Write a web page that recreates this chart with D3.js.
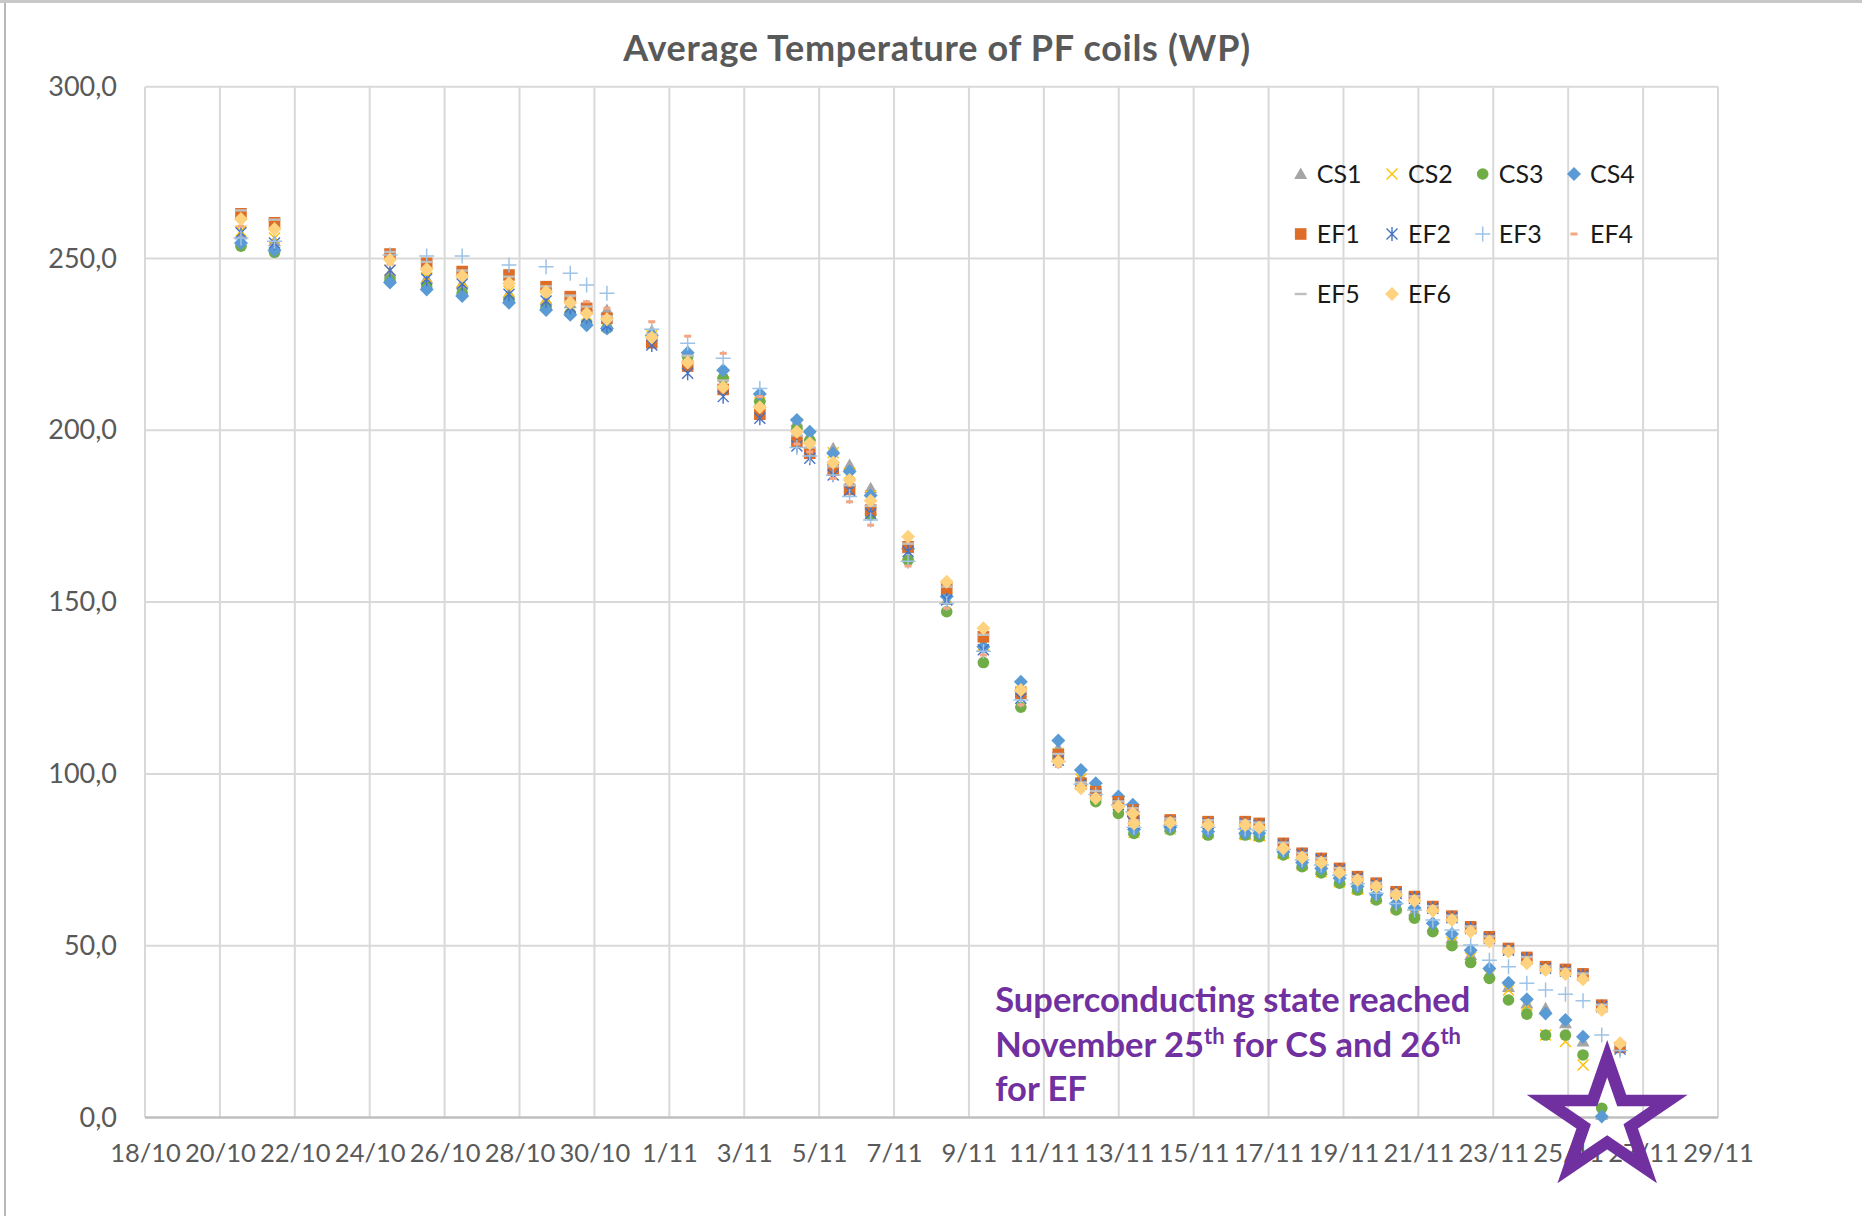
<!DOCTYPE html>
<html>
<head>
<meta charset="utf-8">
<script src="https://cdn.jsdelivr.net/npm/d3@7"></script>
<style>
  html, body { margin: 0; padding: 0; background: #fff; }
  svg { display: block; }
</style>
</head>
<body>
<script>
// ---------------- DATA ----------------
const times = [
  "2020-10-20T13:30","2020-10-21T11:00","2020-10-24T13:00","2020-10-25T12:30","2020-10-26T11:15",
  "2020-10-27T17:15","2020-10-28T17:00","2020-10-29T08:30","2020-10-29T19:00","2020-10-30T08:00",
  "2020-10-31T12:45","2020-11-01T11:45","2020-11-02T10:30","2020-11-03T10:00","2020-11-04T09:45",
  "2020-11-04T18:00","2020-11-05T09:00","2020-11-05T19:30","2020-11-06T09:00","2020-11-07T09:00",
  "2020-11-08T09:45","2020-11-09T09:15","2020-11-10T09:15","2020-11-11T09:15","2020-11-11T23:45",
  "2020-11-12T09:15","2020-11-12T23:45","2020-11-13T09:00","2020-11-13T09:45","2020-11-14T09:00",
  "2020-11-15T09:15","2020-11-16T09:00","2020-11-16T18:00","2020-11-17T09:30","2020-11-17T21:30",
  "2020-11-18T09:45","2020-11-18T21:30","2020-11-19T09:00","2020-11-19T21:00","2020-11-20T09:45",
  "2020-11-20T21:30","2020-11-21T09:15","2020-11-21T21:30","2020-11-22T09:30","2020-11-22T21:30",
  "2020-11-23T09:45","2020-11-23T21:30","2020-11-24T09:30","2020-11-24T22:15","2020-11-25T09:30",
  "2020-11-25T21:30","2020-11-26T09:15"
];
const CS1 = [257.0,255.0,245.7,244.2,242.8,239.9,237.9,237.0,236.2,235.0,229.0,222.9,216.5,209.8,202.5,198.5,194.8,189.9,183.1,165.7,150.6,137.0,125.4,107.5,99.2,95.8,92.4,90.0,83.5,84.5,83.0,82.5,82.0,77.0,73.8,72.0,69.0,66.7,64.2,61.5,60.0,55.5,52.2,47.3,41.9,38.0,33.2,31.8,27.4,22.1,0.8,null];
const CS2 = [258.0,256.0,246.6,244.5,243.2,240.5,238.5,236.0,233.5,231.0,227.5,220.2,214.0,208.0,202.0,198.0,193.5,187.5,181.0,164.0,151.0,137.5,124.0,106.0,98.5,95.0,91.5,89.5,83.0,84.0,82.7,82.3,82.0,76.8,73.5,71.5,68.6,66.5,63.8,61.0,59.0,55.0,51.0,46.5,41.5,37.1,32.7,24.0,22.1,15.3,1.5,null];
const CS3 = [253.6,251.8,243.7,241.8,239.9,237.7,235.5,234.0,231.1,229.7,227.3,221.4,215.1,208.3,200.5,197.0,190.0,183.5,175.4,162.2,147.2,132.4,119.4,104.7,96.5,91.9,88.5,88.0,82.7,83.7,82.2,82.2,81.7,76.4,73.0,71.2,68.2,66.2,63.3,60.4,58.0,54.1,50.0,45.1,40.5,34.2,30.1,24.0,24.0,18.2,2.7,null];
const CS4 = [254.5,252.4,243.0,241.0,239.1,237.1,235.0,233.6,230.6,229.6,227.6,222.6,217.5,210.6,203.0,199.6,193.3,188.0,181.0,165.5,151.6,137.0,126.8,109.7,101.1,97.3,93.4,91.0,83.8,84.5,83.2,82.7,82.7,77.3,74.2,72.5,69.6,67.2,64.8,62.3,61.0,56.5,53.4,48.7,43.4,39.2,34.4,30.3,28.4,23.5,0.3,null];
const EF1 = [263.0,260.4,251.3,248.6,246.2,245.2,241.8,238.9,235.5,232.6,225.5,218.7,211.9,204.7,196.7,193.3,188.4,182.8,176.8,166.1,154.0,139.9,123.5,105.6,97.3,94.8,91.9,89.5,86.5,86.6,86.1,86.1,85.6,79.8,76.9,75.4,72.5,70.1,68.2,65.7,64.3,61.4,58.6,55.5,52.6,49.2,46.6,43.9,43.1,41.8,32.7,20.4];
const EF2 = [257.5,254.5,246.6,244.0,242.6,239.6,237.6,235.8,233.0,230.4,224.8,216.6,209.8,203.5,195.4,191.9,187.0,182.5,175.8,164.7,150.6,136.1,122.0,104.0,97.0,94.0,91.0,89.0,85.5,86.0,85.5,85.5,85.0,79.3,76.5,75.0,72.0,69.6,67.7,65.2,63.8,60.9,58.1,55.0,52.1,48.7,46.1,43.4,42.6,41.3,32.2,19.9];
const EF3 = [256.0,255.0,251.0,250.7,250.7,248.1,247.6,245.7,242.3,239.9,229.4,225.3,221.0,212.2,195.0,192.5,187.0,180.7,173.9,161.9,149.6,135.7,121.5,103.6,97.0,94.0,91.0,89.0,84.5,85.0,84.5,84.0,83.5,78.0,75.0,73.5,70.5,68.0,65.3,62.3,60.4,57.5,54.6,50.2,45.8,43.9,39.1,37.1,35.9,34.0,24.0,19.5];
const EF4 = [259.4,259.0,248.4,246.2,244.2,242.4,239.9,238.9,237.4,235.5,231.6,227.4,222.4,209.8,196.0,193.7,186.0,179.2,172.4,160.5,148.2,134.6,120.1,102.2,96.5,93.5,90.8,88.5,85.0,86.0,85.5,85.5,85.0,79.5,76.5,75.0,72.2,69.8,67.9,65.4,64.0,61.1,58.3,55.2,52.3,48.9,46.3,43.6,42.8,41.5,32.4,22.1];
const EF5 = [264.0,261.3,251.9,249.0,246.5,244.7,241.9,239.2,236.0,233.2,228.0,221.7,214.5,207.0,198.5,195.0,189.5,184.0,178.0,167.0,154.5,140.5,124.0,105.8,97.5,95.0,92.0,90.0,86.5,87.0,86.5,86.3,85.8,80.0,77.0,75.5,72.6,70.2,68.3,65.8,64.4,61.5,58.7,55.6,52.7,49.3,46.7,44.0,43.2,41.9,32.8,21.0];
const EF6 = [261.5,258.6,249.6,246.9,244.9,242.8,240.3,237.1,234.0,232.3,227.0,219.7,212.5,206.7,199.6,196.2,190.6,185.5,179.5,169.0,155.9,142.4,124.4,103.6,95.8,92.9,90.5,88.5,85.6,85.8,85.1,85.1,84.4,78.3,75.7,74.2,71.2,69.1,67.2,64.8,63.1,60.2,57.5,54.1,51.2,48.3,44.9,42.9,41.8,40.2,31.3,21.6];

const seriesNames = ["CS1","CS2","CS3","CS4","EF1","EF2","EF3","EF4","EF5","EF6"];
const seriesValues = [CS1, CS2, CS3, CS4, EF1, EF2, EF3, EF4, EF5, EF6];
const xTickDates = ["2020-10-18","2020-10-20","2020-10-22","2020-10-24","2020-10-26","2020-10-28","2020-10-30",
  "2020-11-01","2020-11-03","2020-11-05","2020-11-07","2020-11-09","2020-11-11","2020-11-13","2020-11-15",
  "2020-11-17","2020-11-19","2020-11-21","2020-11-23","2020-11-25","2020-11-27","2020-11-29"];
const yTicks = [0, 50, 100, 150, 200, 250, 300];
const titleText = "Average Temperature of PF coils (WP)";

// ---------------- STYLE ----------------
const styles = {
  CS1: {shape: "triangle", color: "#A5A5A5"},
  CS2: {shape: "x",        color: "#FFC000"},
  CS3: {shape: "circle",   color: "#70AD47"},
  CS4: {shape: "diamond",  color: "#5B9BD5"},
  EF1: {shape: "square",   color: "#DD6D27"},
  EF2: {shape: "asterisk", color: "#4472C4"},
  EF3: {shape: "plus",     color: "#9DC3E6"},
  EF4: {shape: "shortdash",color: "#F4A582"},
  EF5: {shape: "longdash", color: "#BFBFBF"},
  EF6: {shape: "diamond",  color: "#FFD27F"}
};

const W = 1862, H = 1216;
const M = {left: 145, right: 1718, top: 86.7, bottom: 1117.5};
const parseT = d3.utcParse("%Y-%m-%dT%H:%M");
const parseD = d3.utcParse("%Y-%m-%d");

const svg = d3.select("body").append("svg").attr("width", W).attr("height", H);
svg.append("rect").attr("width", W).attr("height", H).attr("fill", "#fff");

// frame of the screenshot
svg.append("rect").attr("x", 0).attr("y", 0).attr("width", W).attr("height", 3).attr("fill", "#c8c8c8");
svg.append("line").attr("x1", 5).attr("x2", 5).attr("y1", 3).attr("y2", H).attr("stroke", "#a0a0a0").attr("stroke-width", 1.5);

const x = d3.scaleUtc().domain([parseD("2020-10-18"), parseD("2020-11-29")]).range([M.left, M.right]);
const y = d3.scaleLinear().domain([0, 300]).range([M.bottom, M.top]);

const fmtY = v => d3.format(".1f")(v).replace(".", ",");
const fmtX = d3.utcFormat("%-d/%m");

// grid
const grid = svg.append("g");
grid.selectAll(".vg").data(xTickDates.map(parseD)).enter().append("line")
  .attr("x1", d => x(d)).attr("x2", d => x(d)).attr("y1", M.top).attr("y2", M.bottom)
  .attr("stroke", "#d9d9d9").attr("stroke-width", 2);
grid.selectAll(".hg").data(yTicks).enter().append("line")
  .attr("x1", M.left).attr("x2", M.right).attr("y1", d => y(d)).attr("y2", d => y(d))
  .attr("stroke", d => d === 0 ? "#bfbfbf" : "#d9d9d9").attr("stroke-width", d => d === 0 ? 2.5 : 2);

// y axis labels
const yAxis = d3.axisLeft(y).tickValues(yTicks).tickFormat(fmtY).tickSize(0).tickPadding(28);
const gy = svg.append("g").attr("transform", `translate(${M.left},0)`).call(yAxis);
gy.select(".domain").remove();
gy.selectAll("text").attr("font-family", "Lato, sans-serif").attr("font-size", 27).attr("fill", "#595959");

// x axis labels
const xAxis = d3.axisBottom(x).tickValues(xTickDates.map(parseD)).tickFormat(fmtX).tickSize(0).tickPadding(26);
const gx = svg.append("g").attr("transform", `translate(0,${M.bottom})`).call(xAxis);
gx.select(".domain").remove();
gx.selectAll("text").attr("font-family", "Lato, sans-serif").attr("font-size", 25.5).attr("fill", "#595959");

// title
svg.append("text").attr("x", 937).attr("y", 61).attr("text-anchor", "middle")
  .attr("font-family", "Lato, sans-serif").attr("font-weight", "bold").attr("font-size", 36)
  .attr("letter-spacing", 0.7).attr("fill", "#595959").text(titleText);

// marker drawing
function drawMarker(g, shape, color) {
  switch (shape) {
    case "triangle":
      g.append("path").attr("d", "M0,-6.5L6.5,5L-6.5,5Z").attr("fill", color); break;
    case "x":
      g.append("path").attr("d", "M-5.5,-5.5L5.5,5.5M-5.5,5.5L5.5,-5.5").attr("stroke", color).attr("stroke-width", 1.4).attr("fill", "none"); break;
    case "circle":
      g.append("circle").attr("r", 5.8).attr("fill", color); break;
    case "diamond":
      g.append("path").attr("d", "M0,-7L7,0L0,7L-7,0Z").attr("fill", color); break;
    case "square":
      g.append("rect").attr("x", -5.8).attr("y", -5.8).attr("width", 11.6).attr("height", 11.6).attr("fill", color); break;
    case "asterisk":
      g.append("path").attr("d", "M0,-7L0,7M-5.5,-5.5L5.5,5.5M-5.5,5.5L5.5,-5.5").attr("stroke", color).attr("stroke-width", 1.4).attr("fill", "none"); break;
    case "plus":
      g.append("path").attr("d", "M0,-7.5L0,7.5M-7.5,0L7.5,0").attr("stroke", color).attr("stroke-width", 1.5).attr("fill", "none"); break;
    case "shortdash":
      g.append("rect").attr("x", -3.5).attr("y", -1.5).attr("width", 7).attr("height", 3).attr("fill", color); break;
    case "longdash":
      g.append("rect").attr("x", -6).attr("y", -1.2).attr("width", 12).attr("height", 2.4).attr("fill", color); break;
  }
}

// series points
const dates = times.map(parseT);
const plot = svg.append("g");
seriesNames.forEach((name, si) => {
  const vals = seriesValues[si];
  const pts = dates.map((d, i) => ({d, v: vals[i]})).filter(p => p.v !== null);
  const g = plot.append("g").attr("class", "series-" + name);
  pts.forEach(p => {
    const m = g.append("g").attr("transform", `translate(${x(p.d)},${y(p.v)})`);
    drawMarker(m, styles[name].shape, styles[name].color);
  });
});

// legend
const legendPos = {
  CS1: [1300.7, 174], CS2: [1392, 174], CS3: [1482.7, 174], CS4: [1574, 174],
  EF1: [1300.7, 234], EF2: [1392, 234], EF3: [1482.7, 234], EF4: [1574, 234],
  EF5: [1300.7, 294], EF6: [1392, 294]
};
const legend = svg.append("g");
seriesNames.forEach(name => {
  const [lx, ly] = legendPos[name];
  const m = legend.append("g").attr("transform", `translate(${lx},${ly})`);
  drawMarker(m, styles[name].shape, styles[name].color);
  legend.append("text").attr("x", lx + 16).attr("y", ly + 9)
    .attr("font-family", "Lato, sans-serif").attr("font-size", 25).attr("fill", "#1a1a1a").text(name);
});

// annotation text
const purple = "#7030A0";
const ann = svg.append("text").attr("font-family", "Lato, sans-serif").attr("font-weight", "bold")
  .attr("font-size", 34.5).attr("fill", purple);
const ax0 = x(parseT("2020-11-09T16:50"));
const ay0 = y(30.7);
ann.append("tspan").attr("x", ax0).attr("y", ay0).text("Superconducting state reached");
ann.append("tspan").attr("x", ax0).attr("y", ay0 + 44.5).text("November 25");
ann.append("tspan").attr("dy", -13).attr("font-size", 22).text("th");
ann.append("tspan").attr("dy", 13).text(" for CS and 26");
ann.append("tspan").attr("dy", -13).attr("font-size", 22).text("th");
ann.append("tspan").attr("x", ax0).attr("y", ay0 + 89).text("for EF");

// star
const sx = x(parseT("2020-11-26T01:00")), sy = y(-0.5);
const Rp = 60.5, Ri = Rp * Math.sin(Math.PI / 10) / Math.sin(3 * Math.PI / 10);
const starPts = d3.range(10).map(i => {
  const a = -Math.PI / 2 + i * Math.PI / 5;
  const r = i % 2 === 0 ? Rp : Ri;
  return [r * Math.cos(a), r * Math.sin(a)];
});
svg.append("path")
  .attr("d", "M" + starPts.map(p => p.join(",")).join("L") + "Z")
  .attr("transform", `translate(${sx},${sy}) scale(1.07,1)`)
  .attr("fill", "none").attr("stroke", purple).attr("stroke-width", 11.5)
  .attr("stroke-linejoin", "miter").attr("stroke-miterlimit", 10);
</script>
</body>
</html>
